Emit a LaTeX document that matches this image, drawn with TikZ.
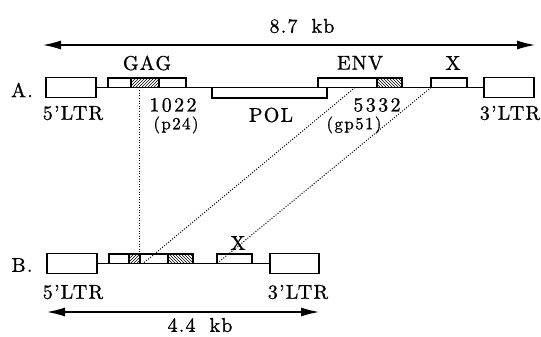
\documentclass[tikz,border=0pt]{standalone}
\usepackage{fontspec}
\setmainfont{lmroman10-regular}[Extension=.otf]
\usetikzlibrary{arrows.meta,patterns}
\tikzset{
  box/.style={draw, fill=white, line width=1.1pt, inner sep=0pt, outer sep=0pt, anchor=north west},
  hne/.style={draw, line width=1.1pt, pattern=north east lines, inner sep=0pt, outer sep=0pt, anchor=north west},
  hnw/.style={draw, line width=1.1pt, pattern=north west lines, inner sep=0pt, outer sep=0pt, anchor=north west},
  backbone/.style={line width=1.1pt},
  dots/.style={line width=1pt, dash pattern=on 1pt off 1.6pt},
  dim/.style={line width=1.2pt, {Latex[length=18pt,width=9pt]}-{Latex[length=18pt,width=9pt]}},
  lbl/.style={inner sep=0pt, font=\fontsize{20}{23}\selectfont\addfontfeatures{LetterSpace=6,FakeBold=0.9}},
  num/.style={inner sep=0pt, font=\fontsize{20}{23}\selectfont\addfontfeatures{LetterSpace=12,FakeBold=0.9}},
  sml/.style={inner sep=0pt, font=\fontsize{17}{20}\selectfont\addfontfeatures{LetterSpace=8,FakeBold=0.9}}
}
\begin{document}
\begin{tikzpicture}[x=1pt,y=-1pt]
\useasboundingbox (0,0) rectangle (541,337);
% ---- Row A ----
\node[box, minimum width=50pt, minimum height=20pt] (ltr5A) at (46,77.5) {};
\node[box, minimum width=78pt, minimum height=9.5pt] (gagA) at (108,78) {};
\node[hne, minimum width=28pt, minimum height=9.5pt] (gagAh) at (131,78) {};
\node[box, minimum width=115pt, minimum height=10.5pt] (polA) at (212,87.5) {};
\node[box, minimum width=84pt, minimum height=9.5pt] (envA) at (318,78) {};
\node[hnw, minimum width=25pt, minimum height=9.5pt] (envAh) at (377,78) {};
\node[box, minimum width=36pt, minimum height=9.5pt] (xA) at (431,78) {};
\node[box, minimum width=50pt, minimum height=20pt] (ltr3A) at (484,77.5) {};
\draw[backbone] (ltr5A.east) -- (gagA.south west);
\draw[backbone] (gagA.south east) -- (polA.north west);
\draw[backbone] (polA.north east) -- (xA.south west);
\draw[backbone] (xA.south east) -- (ltr3A.west);
% ---- Row B ----
\node[box, minimum width=50pt, minimum height=20pt] (ltr5B) at (47,253.5) {};
\node[box, minimum width=84pt, minimum height=9.5pt] (gagB) at (109,254) {};
\node[hne, minimum width=11pt, minimum height=9.5pt] (hB1) at (129,254) {};
\node[hnw, minimum width=25pt, minimum height=9.5pt] (hB2) at (168,254) {};
\node[box, minimum width=35pt, minimum height=9.5pt] (xB) at (217,254) {};
\node[box, minimum width=49pt, minimum height=20pt] (ltr3B) at (270,253.5) {};
\draw[backbone] (ltr5B.east) -- (gagB.south west);
\draw[backbone] (gagB.south east) -- (xB.south west);
\draw[backbone] (xB.south east) -- (ltr3B.west);
% ---- dotted correspondences ----
\coordinate (v1) at (139,87.5);
\coordinate (v2) at (139,254);
\coordinate (d1) at (355,87.5);
\coordinate (d2) at (143,263.5);
\draw[dots] (v1) -- (v2);
\draw[dots] (d1) -- (d2);
\draw[dots] (xA.south west) -- (xB.south west);
% ---- dimension arrows ----
\coordinate (aL) at (43,45);
\coordinate (aR) at (535,45);
\draw[dim] (aL) -- (aR);
\coordinate (bL) at (47,312);
\coordinate (bR) at (319,312);
\draw[dim] (bL) -- (bR);
% ---- labels ----
\node[lbl] (t87) at (302,26) {8.7\hspace{14pt}kb};
\node[lbl] (tgag) at (147,63) {GAG};
\node[lbl] (tenv) at (360,63) {ENV};
\node[lbl] (txA) at (453,63) {X};
\node[lbl] (tA) at (22,90) {A.};
\node[lbl] (t5A) at (73,113) {5'LTR};
\node[lbl] (t3A) at (510,113) {3'LTR};
\node[num] (t1022) at (173,105) {1022};
\node[sml] (tp24) at (176,125) {(p24)};
\node[lbl] (tpol) at (271,115) {POL};
\node[num] (t5332) at (377,105) {5332};
\node[sml] (tgp) at (354,125) {(gp51)};
\node[lbl] (tB) at (22,265) {B.};
\node[lbl] (txB) at (238,243) {X};
\node[lbl] (t5B) at (73,292) {5'LTR};
\node[lbl] (t3B) at (298,292) {3'LTR};
\node[lbl] (t44) at (200,325) {4.4\hspace{14pt}kb};
\end{tikzpicture}
\end{document}
